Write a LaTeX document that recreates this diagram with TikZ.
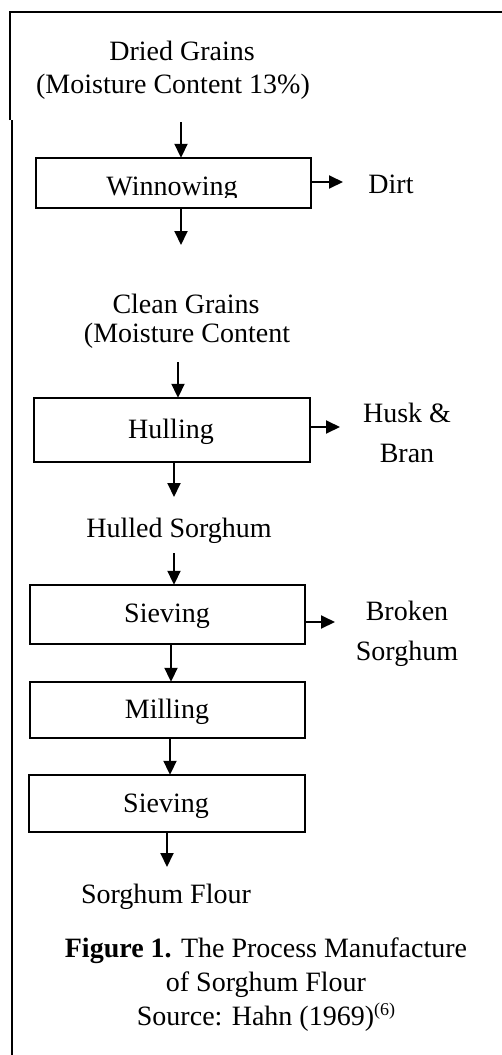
\documentclass[tikz,border=0pt]{standalone}
\usepackage{fontspec}
\setmainfont{Liberation Serif}
\usetikzlibrary{arrows.meta}
\begin{document}
\begin{tikzpicture}[x=1pt,y=-1pt,
  txt/.style={inner sep=0pt,anchor=base,font=\fontsize{28}{33}\selectfont},
  boxl/.style={draw,line width=1.9pt},
  arr/.style={line width=1.9pt,-{Triangle[length=14pt,width=13pt]}},
  frame/.style={line width=2pt}]
\useasboundingbox (0,0) rectangle (502,1055);
% frame
\draw[frame] (10,120) -- (10,12) -- (502,12);
\draw[frame] (12,120) -- (12,1055);
% boxes
\draw[boxl] (36,158) rectangle (311,208);
\node (win) at (173.5,183) [minimum width=275pt,minimum height=50pt,inner sep=0pt] {};
\draw[boxl] (34,398) rectangle (310,462);
\node (hul) at (172,430) [minimum width=276pt,minimum height=64pt,inner sep=0pt] {};
\draw[boxl] (30,585) rectangle (305,644);
\node (sv1) at (167.5,614.5) [minimum width=275pt,minimum height=59pt,inner sep=0pt] {};
\draw[boxl] (30,682) rectangle (305,738);
\node (mil) at (167.5,710) [minimum width=275pt,minimum height=56pt,inner sep=0pt] {};
\draw[boxl] (29,775) rectangle (305,832);
\node (sv2) at (167,803.5) [minimum width=276pt,minimum height=57pt,inner sep=0pt] {};
% texts
\node[txt] (dg) at (182,60) {Dried Grains};
\node[txt] (dm) at (173,93) {(Moisture Content 13\%)};
\begin{scope}
\clip (36,158) rectangle (311,197);
\node[txt] (wint) at (172,195) {Winnowing};
\end{scope}
\node[txt] (dirt) at (391,193) {Dirt};
\node[txt] (cg) at (186,313) {Clean Grains};
\node[txt] (cm) at (187,342) {(Moisture Content};
\node[txt] (hult) at (171,438) {Hulling};
\node[txt] (husk) at (407,422) {Husk \&};
\node[txt] (bran) at (407,462) {Bran};
\node[txt] (hs) at (179,537) {Hulled Sorghum};
\node[txt] (sv1t) at (167,622) {Sieving};
\node[txt] (brk) at (407,620) {Broken};
\node[txt] (brs) at (407,660) {Sorghum};
\node[txt] (milt) at (167,718) {Milling};
\node[txt] (sv2t) at (166,812) {Sieving};
\node[txt] (sf) at (166,903) {Sorghum Flour};
\node[txt] (cap1) at (266,957) {\textbf{Figure 1.} The Process Manufacture};
\node[txt] (cap2) at (266,991) {of Sorghum Flour};
\node[txt] (cap3) at (266,1025) {Source: Hahn (1969)\raisebox{10pt}{\fontsize{18}{18}\selectfont(6)}};
% coordinates for free ends
\coordinate (s1) at (181,122);
\coordinate (e2) at (181,245);
\coordinate (s3) at (178,362);
\coordinate (e4) at (174,497);
\coordinate (s5) at (174,553);
\coordinate (e8) at (167,867);
% vertical arrows
\draw[arr] (s1) -- (s1 |- win.north);
\draw[arr] (e2 |- win.south) -- (e2);
\draw[arr] (s3) -- (s3 |- hul.north);
\draw[arr] (e4 |- hul.south) -- (e4);
\draw[arr] (s5) -- (s5 |- sv1.north);
\draw[arr] (171,644) coordinate (a6) -- (a6 |- mil.north);
\draw[arr] (170,738) coordinate (a7) -- (a7 |- sv2.north);
\draw[arr] (e8 |- sv2.south) -- (e8);
% side arrows
\draw[arr] (win.east |- 0,182) -- (343,182);
\draw[arr] (hul.east |- 0,427) -- (340,427);
\draw[arr] (sv1.east |- 0,622) -- (335,622);
\end{tikzpicture}
\end{document}
